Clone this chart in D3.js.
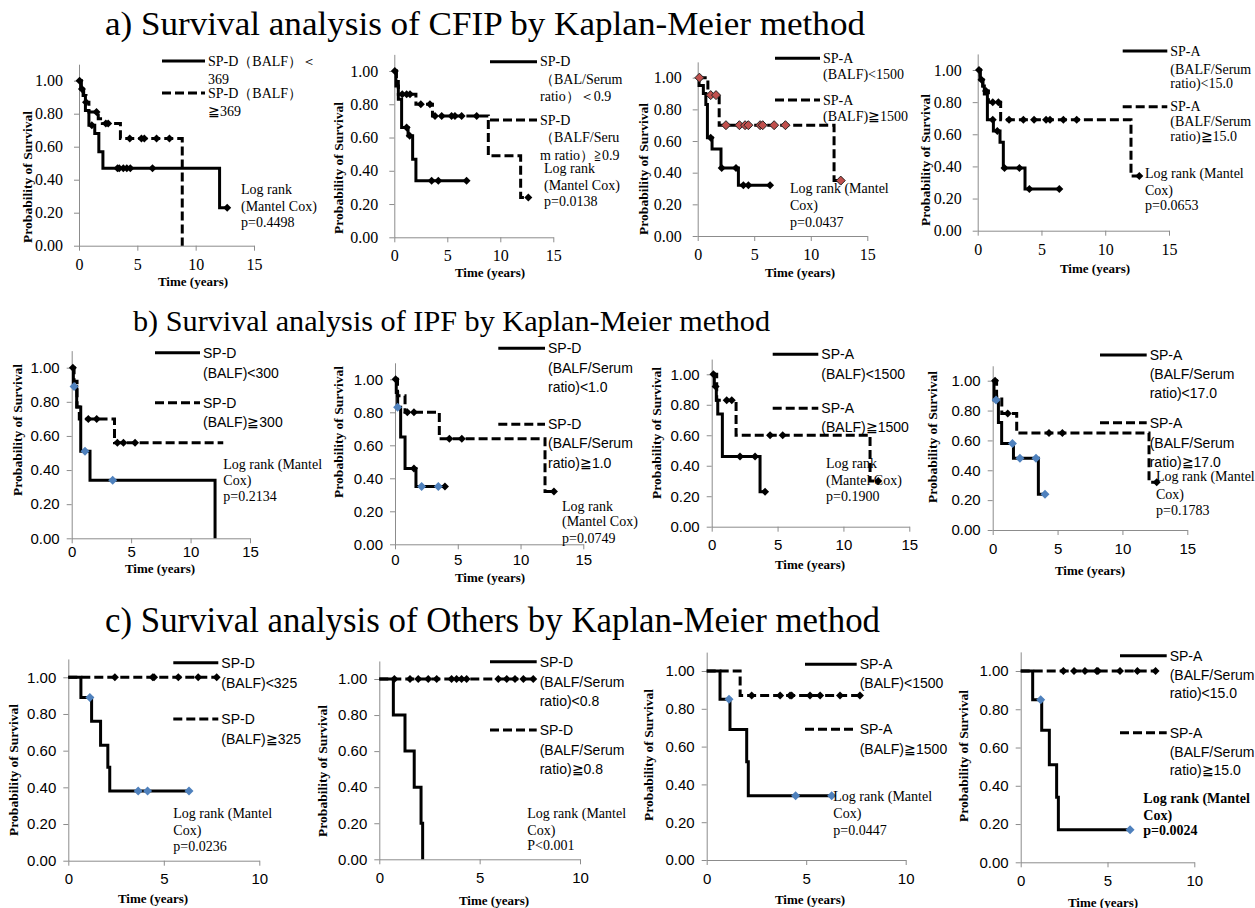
<!doctype html>
<html>
<head>
<meta charset="utf-8">
<title>Survival analysis</title>
<script src="https://d3js.org/d3.v7.min.js"></script>
<style>
  body { margin: 0; background: #fff; }
</style>
</head>
<body>
<script>

// ---- data: step points [time, survival], censor times, labels ----
var a1Solid = [[0,1],[0.15,0.95],[0.35,0.91],[0.55,0.82],[0.85,0.73],[1.35,0.68],[1.7,0.57],[2.05,0.47],[12.05,0.23]];
var a1SolidCens = [0.05, 1.1, 3.3, 3.45, 3.8, 4.1, 4.4, 6.3, 12.7];
var a1Dashed = [[0,1],[0.2,0.95],[0.4,0.91],[0.6,0.87],[0.85,0.81],[1.65,0.77],[2.0,0.74],[3.55,0.65],[8.85,0]];
var a1DashedCens = [0.25, 0.6, 1.5, 2.3, 2.5, 4.35, 5.35, 5.6, 6.65, 7.75];

var a2Solid = [[0,1],[0.15,0.91],[0.38,0.83],[0.69,0.66],[1.3,0.61],[1.73,0.47],[2.04,0.34]];
var a2SolidCens = [0.05, 1.16, 1.45, 3.52, 4.15, 6.82];
var a2Dashed = [[0,1],[0.2,0.95],[0.38,0.86],[2.04,0.80],[3.6,0.73],[8.87,0.49],[11.92,0.24]];
var a2DashedCens = [0.75, 1.16, 1.48, 2.5, 3.36, 3.84, 4.47, 5.4, 5.72, 6.35, 7.77, 12.64];

var a3Solid = [[0,1],[0.12,0.95],[0.5,0.9],[0.72,0.83],[0.86,0.62],[1.27,0.55],[2.06,0.43],[3.6,0.32]];
var a3SolidCens = [1.15, 2.12, 3.39, 4.04, 4.48, 6.4];
var a3Dashed = [[0,1],[0.9,0.89],[1.9,0.70],[12.06,0.35]];
var a3DashedRed = [0.15, 1.15, 1.62, 2.5, 3.69, 4.19, 4.48, 5.52, 5.75, 6.76, 7.76, 12.65];

var a4Solid = [[0,1],[0.18,0.94],[0.4,0.9],[0.52,0.85],[0.76,0.69],[1.23,0.62],[1.75,0.55],[2.01,0.39],[3.71,0.26]];
var a4SolidCens = [0.3, 1.18, 1.54, 2.1, 3.27, 4.05, 6.4];
var a4Dashed = [[0,1],[0.2,0.94],[0.4,0.9],[0.6,0.87],[0.84,0.80],[1.8,0.69],[12.02,0.34]];
var a4DashedCens = [0.1, 0.65, 1.18, 1.62, 2.46, 3.58, 4.42, 5.36, 5.67, 6.72, 7.76, 12.67];

var b1Solid = [[0,1],[0.14,0.89],[0.42,0.77],[0.76,0.51],[1.54,0.34],[12.06,0]];
var b1SolidBlue = [0.2, 1.12, 3.45];
var b1Dashed = [[0,1],[0.2,0.92],[0.45,0.77],[0.64,0.70],[3.6,0.56],[12.75,0.56]];
var b1DashedCens = [0.1, 1.4, 2.1, 3.84, 4.35, 5.33];

var b2Solid = [[0,1],[0.1,0.92],[0.21,0.83],[0.45,0.65],[0.8,0.46],[1.67,0.35]];
var b2SolidCens = [0.05, 1.51, 3.98];
var b2SolidBlue = [0.21, 2.12, 3.45];
var b2Dashed = [[0,1],[0.2,0.9],[0.8,0.8],[3.53,0.64],[11.95,0.32]];
var b2DashedCens = [0.98, 1.51, 4.33, 5.32, 12.66];

var b3Solid = [[0,1],[0.2,0.92],[0.35,0.83],[0.46,0.74],[0.81,0.46],[3.67,0.23]];
var b3SolidCens = [0.13, 0.3, 2.15, 3.29, 4.05];
var b3Dashed = [[0,1],[0.38,0.83],[1.85,0.60],[12.02,0.30]];
var b3DashedCens = [1.14, 1.52, 4.43, 5.39, 12.65];

var b4Solid = [[0,1],[0.1,0.87],[0.44,0.72],[0.69,0.58],[1.6,0.48],[3.52,0.24]];
var b4SolidBlue = [0.26, 1.52, 2.1, 3.34, 4.03];
var b4Dashed = [[0,1],[0.3,0.89],[0.7,0.78],[1.85,0.65],[12.05,0.32]];
var b4DashedCens = [0.18, 1.16, 4.34, 5.37, 12.64];

var c1Solid = [[0,1],[0.66,0.89],[1.22,0.76],[1.69,0.63],[2.07,0.51],[2.17,0.38]];
var c1SolidBlue = [1.13, 3.66, 4.15, 6.32];
var c1Dashed = [[0,1]];
var c1DashedCens = [2.44, 4.42, 4.49, 5.76, 6.8, 7.77];

var c2Solid = [[0,1],[0.7,0.8],[1.28,0.6],[1.74,0.4],[2.08,0.2],[2.16,0]];
var c2Dashed = [[0,1]];
var c2DashedCens = [0.75, 1.53, 1.94, 2.44, 2.86, 3.6, 3.85, 4.1, 4.35, 5.93, 6.35, 6.76, 7.18, 7.67];

var c3Solid = [[0,1],[0.67,0.85],[1.17,0.69],[2.01,0.52],[2.09,0.34]];
var c3SolidBlue = [1.12, 4.47, 6.28];
var c3Dashed = [[0,1],[1.68,0.87]];
var c3DashedCens = [2.26, 3.69, 4.19, 4.27, 5.19, 5.7, 6.7, 7.7];

var c4Solid = [[0,1],[0.69,0.85],[1.21,0.69],[1.65,0.51],[2.07,0.34],[2.17,0.17]];
var c4SolidBlue = [1.15, 6.3];
var c4Dashed = [[0,1]];
var c4DashedCens = [2.46, 3.07, 3.7, 4.38, 4.45, 5.72, 6.72, 7.77];

var yTicks = [0, 0.2, 0.4, 0.6, 0.8, 1.0];
var xTicks15 = [0, 5, 10, 15];
var xTicks10 = [0, 5, 10];

var titles = ["a) Survival analysis of CFIP by Kaplan-Meier method",
              "b) Survival analysis of IPF by Kaplan-Meier method",
              "c) Survival analysis of Others by Kaplan-Meier method"];

var a1Labels = [["SP-D（BALF）＜", "369"], ["SP-D（BALF）", "≧369"]];
var a2Labels = [["SP-D", "（BAL/Serum", "ratio）＜0.9"], ["SP-D", "（BALF/Seru", "m ratio）≧0.9"]];
var a3Labels = [["SP-A", "(BALF)<1500"], ["SP-A", "(BALF)≧1500"]];
var a4Labels = [["SP-A", "(BALF/Serum", "ratio)<15.0"], ["SP-A", "(BALF/Serum", "ratio)≧15.0"]];
var b1Labels = [["SP-D", "(BALF)<300"], ["SP-D", "(BALF)≧300"]];
var b2Labels = [["SP-D", "(BALF/Serum", "ratio)<1.0"], ["SP-D", "(BALF/Serum", "ratio)≧1.0"]];
var b3Labels = [["SP-A", "(BALF)<1500"], ["SP-A", "(BALF)≧1500"]];
var b4Labels = [["SP-A", "(BALF/Serum", "ratio)<17.0"], ["SP-A", "(BALF/Serum", "ratio)≧17.0"]];
var c1Labels = [["SP-D", "(BALF)<325"], ["SP-D", "(BALF)≧325"]];
var c2Labels = [["SP-D", "(BALF/Serum", "ratio)<0.8"], ["SP-D", "(BALF/Serum", "ratio)≧0.8"]];
var c3Labels = [["SP-A", "(BALF)<1500"], ["SP-A", "(BALF)≧1500"]];
var c4Labels = [["SP-A", "(BALF/Serum", "ratio)<15.0"], ["SP-A", "(BALF/Serum", "ratio)≧15.0"]];

var a1Stat = ["Log rank", "(Mantel Cox)", "p=0.4498"];
var a2Stat = ["Log rank", "(Mantel Cox)", "p=0.0138"];
var a3Stat = ["Log rank (Mantel", "Cox)", "p=0.0437"];
var a4Stat = ["Log rank (Mantel", "Cox)", "p=0.0653"];
var b1Stat = ["Log rank (Mantel", "Cox)", "p=0.2134"];
var b2Stat = ["Log rank", "(Mantel Cox)", "p=0.0749"];
var b3Stat = ["Log rank", "(Mantel Cox)", "p=0.1900"];
var b4Stat = ["Log rank (Mantel", "Cox)", "p=0.1783"];
var c1Stat = ["Log rank (Mantel", "Cox)", "p=0.0236"];
var c2Stat = ["Log rank (Mantel", "Cox)", "P<0.001"];
var c3Stat = ["Log rank (Mantel", "Cox)", "p=0.0447"];
var c4Stat = ["Log rank (Mantel", "Cox)", "p=0.0024"];

// ---- styles ----
var serif = "'Liberation Serif', 'Times New Roman', serif";
var sans = "'Liberation Sans', Arial, sans-serif";
var blue = "#4f81bd";
var red = "#c0504d";
var axisColor = "#8c8c8c";

// ---- layout of the 12 panels ----
var panels = [
  {s: a1Solid, d: a1Dashed, marks: [[a1SolidCens,'s','#000'],[a1DashedCens,'d','#000']], xMax: 15,
   x0: 79, x1: 254, y1: 80.7, y0: 245.7, ylab: [27, 177], tlab: [193, 281], tickFont: serif, ypad: 11, xpad: 8,
   lx: [162, 205], sy: [61, 79], dy: [93, 111], labels: a1Labels, legFont: serif,
   stat: a1Stat, sx: 241, sty: [189, 206, 222]},
  {s: a2Solid, d: a2Dashed, marks: [[a2SolidCens,'s','#000'],[a2DashedCens,'d','#000']], xMax: 15,
   x0: 394.3, x1: 553.3, y1: 71, y0: 237.3, ylab: [338, 168], tlab: [490, 272], tickFont: serif, ypad: 11, xpad: 7,
   lx: [490, 537], sy: [61.7, 79.3, 96.7], dy: [120, 137.5, 155], labels: a2Labels, legFont: serif,
   stat: a2Stat, sx: 544, sty: [168, 185, 201.7]},
  {s: a3Solid, d: a3Dashed, marks: [[a3SolidCens,'s','#000'],[a3DashedRed,'d',red]], xMax: 15,
   x0: 697.7, x1: 867.3, y1: 77.7, y0: 236, ylab: [643, 169], tlab: [800, 272], tickFont: serif, ypad: 11, xpad: 8,
   lx: [775, 820], sy: [58.3, 74.3], dy: [100, 116], labels: a3Labels, legFont: serif,
   stat: a3Stat, sx: 790, sty: [188, 205, 222.7]},
  {s: a4Solid, d: a4Dashed, marks: [[a4SolidCens,'s','#000'],[a4DashedCens,'d','#000']], xMax: 15,
   x0: 977.7, x1: 1169, y1: 70, y0: 230.7, ylab: [925, 160], tlab: [1095, 268], tickFont: serif, ypad: 11, xpad: 8,
   lx: [1122.7, 1167.3], sy: [51, 69, 83.3], dy: [106.7, 121.7, 136.7], labels: a4Labels, legFont: serif,
   stat: a4Stat, sx: 1145, sty: [173.3, 190, 205.7]},

  {s: b1Solid, d: b1Dashed, marks: [[b1DashedCens,'d','#000'],[b1SolidBlue,'s',blue]], xMax: 15,
   x0: 71.7, x1: 250, y1: 367.7, y0: 538.3, ylab: [17, 430], tlab: [160, 568], tickFont: sans, ypad: 7, xpad: 3,
   lx: [155, 200], sy: [352.7, 372.7], dy: [402.7, 421.7], labels: b1Labels, legFont: sans,
   stat: b1Stat, sx: 223.3, sty: [464.3, 480, 496.7]},
  {s: b2Solid, d: b2Dashed, marks: [[b2SolidCens,'s','#000'],[b2DashedCens,'d','#000'],[b2SolidBlue,'s',blue]], xMax: 15,
   x0: 395, x1: 583.3, y1: 379.3, y0: 544.3, ylab: [338, 432], tlab: [490, 577], tickFont: sans, ypad: 7, xpad: 5,
   lx: [498.3, 545], sy: [348.3, 368.3, 386.7], dy: [424.3, 443.3, 462.7], labels: b2Labels, legFont: sans,
   stat: b2Stat, sx: 562, sty: [506.7, 521.7, 538.3]},
  {s: b3Solid, d: b3Dashed, marks: [[b3SolidCens,'s','#000'],[b3DashedCens,'d','#000']], xMax: 15,
   x0: 711.7, x1: 909.3, y1: 374.3, y0: 526.7, ylab: [656, 433], tlab: [810, 564], tickFont: sans, ypad: 7, xpad: 8,
   lx: [772.7, 818.3], sy: [354.3, 374.3], dy: [408.3, 427.3], labels: b3Labels, legFont: sans,
   stat: b3Stat, sx: 826, sty: [463.3, 480, 496]},
  {s: b4Solid, d: b4Dashed, marks: [[b4DashedCens,'d','#000'],[b4SolidBlue,'s',blue]], xMax: 15,
   x0: 992.7, x1: 1187.3, y1: 380.7, y0: 530, ylab: [932, 437], tlab: [1090, 570], tickFont: sans, ypad: 7, xpad: 8,
   lx: [1100, 1146.7], sy: [355, 374.3, 393.3], dy: [422.7, 442.7, 461.7], labels: b4Labels, legFont: sans,
   stat: b4Stat, sx: 1156, sty: [476.7, 494, 510]},

  {s: c1Solid, d: c1Dashed, marks: [[c1DashedCens,'d','#000'],[c1SolidBlue,'s',blue]], xMax: 10,
   x0: 68.3, x1: 259.3, y1: 677.3, y0: 860.7, ylab: [13.5, 770], tlab: [153, 898], tickFont: sans, ypad: 7, xpad: 8,
   lx: [173.3, 218.3], sy: [662.7, 682.7], dy: [719, 739], labels: c1Labels, legFont: sans,
   stat: c1Stat, sx: 173.3, sty: [813.3, 830, 846.7]},
  {s: c2Solid, d: c2Dashed, marks: [[c2DashedCens,'d','#000']], xMax: 10,
   x0: 379.3, x1: 580, y1: 679, y0: 859.3, ylab: [322, 771], tlab: [494, 900], tickFont: sans, ypad: 7, xpad: 8,
   lx: [490, 536.7], sy: [661.7, 682.3, 701], dy: [730, 750, 769], labels: c2Labels, legFont: sans,
   stat: c2Stat, sx: 527.3, sty: [813.3, 830, 845]},
  {s: c3Solid, d: c3Dashed, marks: [[c3DashedCens,'d','#000'],[c3SolidBlue,'s',blue]], xMax: 10,
   x0: 706.7, x1: 905.7, y1: 671, y0: 860, ylab: [648, 755], tlab: [810, 899], tickFont: sans, ypad: 7, xpad: 8,
   lx: [805, 856.7], sy: [664.3, 683.3], dy: [729.3, 749.3], labels: c3Labels, legFont: sans,
   stat: c3Stat, sx: 833.3, sty: [796.7, 813.3, 830]},
  {s: c4Solid, d: c4Dashed, marks: [[c4DashedCens,'d','#000'],[c4SolidBlue,'s',blue]], xMax: 10,
   x0: 1020.7, x1: 1194.3, y1: 671, y0: 862.3, ylab: [963, 756], tlab: [1103, 902], tickFont: sans, ypad: 7, xpad: 8,
   lx: [1120, 1166.7], sy: [655.7, 675, 693.3], dy: [732.7, 751.7, 770], labels: c4Labels, legFont: sans,
   stat: c4Stat, sx: 1143.3, sty: [798.3, 815, 830], statBold: true}
];

// title position, font size, target width
var titleLayout = [[105, 35, 34, 760], [133, 331, 30, 637], [105, 632, 35, 775]];

// ---- drawing ----
var svg = d3.select('body').append('svg')
  .attr('width', 1255)
  .attr('height', 908);

titles.forEach(function(t, i) {
  var tl = titleLayout[i];
  svg.append('text')
    .attr('x', tl[0])
    .attr('y', tl[1])
    .attr('font-family', serif)
    .attr('font-size', tl[2])
    .attr('textLength', tl[3])
    .attr('lengthAdjust', 'spacingAndGlyphs')
    .attr('fill', '#000')
    .text(t);
});

// survival value of a step curve at time t
function survAt(steps, t) {
  var v = steps[0][1];
  steps.forEach(function(p) { if (p[0] <= t) v = p[1]; });
  return v;
}

function diamond(r) {
  return 'M0,' + (-r) + 'L' + r + ',0L0,' + r + 'L' + (-r) + ',0Z';
}

panels.forEach(function(p) {
  var g = svg.append('g');

  var x = d3.scaleLinear().domain([0, p.xMax]).range([p.x0, p.x1]);
  var y = d3.scaleLinear().domain([0, 1.1]).range([p.y0, p.y0 - (p.y0 - p.y1) * 1.1]);

  // axes
  var xAxis = g.append('g')
    .attr('transform', 'translate(0,' + p.y0 + ')')
    .call(d3.axisBottom(x).tickValues(p.xMax == 15 ? xTicks15 : xTicks10)
      .tickSizeInner(5).tickSizeOuter(0).tickPadding(p.xpad));
  var yAxis = g.append('g')
    .attr('transform', 'translate(' + p.x0 + ',0)')
    .call(d3.axisLeft(y).tickValues(yTicks).tickFormat(d3.format('.2f'))
      .tickSizeInner(5).tickSizeOuter(0).tickPadding(p.ypad));
  [xAxis, yAxis].forEach(function(a) {
    a.attr('font-family', p.tickFont)
     .attr('font-size', p.tickFont == serif ? 16 : 15);
    a.selectAll('path, line').attr('stroke', axisColor);
    a.selectAll('text').attr('fill', '#000');
  });

  // axis titles
  g.append('text')
    .attr('transform', 'translate(' + p.ylab[0] + ',' + p.ylab[1] + ') rotate(-90)')
    .attr('text-anchor', 'middle')
    .attr('dominant-baseline', 'central')
    .attr('font-family', serif)
    .attr('font-weight', 'bold')
    .attr('font-size', 13.5)
    .text('Probability of Survival');
  g.append('text')
    .attr('x', p.tlab[0])
    .attr('y', p.tlab[1])
    .attr('text-anchor', 'middle')
    .attr('dominant-baseline', 'central')
    .attr('font-family', serif)
    .attr('font-weight', 'bold')
    .attr('font-size', 13)
    .text('Time (years)');

  // curves
  var line = d3.line()
    .x(function(d) { return x(d[0]); })
    .y(function(d) { return y(d[1]); })
    .curve(d3.curveStepAfter);

  function curvePoints(steps, key) {
    var pts = steps.slice();
    var end = pts[pts.length - 1][0];
    p.marks.forEach(function(m) {
      if (m[1] == key) m[0].forEach(function(t) { if (t > end) end = t; });
    });
    if (end > pts[pts.length - 1][0]) pts.push([end, pts[pts.length - 1][1]]);
    return pts;
  }

  g.append('path')
    .attr('d', line(curvePoints(p.d, 'd')))
    .attr('fill', 'none')
    .attr('stroke', '#000')
    .attr('stroke-width', 3)
    .attr('stroke-dasharray', '9,4');
  g.append('path')
    .attr('d', line(curvePoints(p.s, 's')))
    .attr('fill', 'none')
    .attr('stroke', '#000')
    .attr('stroke-width', 3);

  // censor marks
  p.marks.forEach(function(m) {
    var steps = m[1] == 's' ? p.s : p.d;
    g.selectAll(null)
      .data(m[0])
      .enter()
      .append('path')
      .attr('d', diamond(m[2] == '#000' ? 4 : 4.5))
      .attr('transform', function(t) { return 'translate(' + x(t) + ',' + y(survAt(steps, t)) + ')'; })
      .attr('fill', m[2])
      .attr('stroke', m[2] == red ? '#222' : 'none')
      .attr('stroke-width', 1);
  });

  // legend
  [[p.sy, null, p.labels[0]], [p.dy, '9,4', p.labels[1]]].forEach(function(item) {
    g.append('line')
      .attr('x1', p.lx[0]).attr('x2', p.lx[1])
      .attr('y1', item[0][0]).attr('y2', item[0][0])
      .attr('stroke', '#000')
      .attr('stroke-width', 3)
      .attr('stroke-dasharray', item[1]);
    item[2].forEach(function(txt, i) {
      g.append('text')
        .attr('x', p.lx[1] + 3)
        .attr('y', item[0][i])
        .attr('dominant-baseline', 'central')
        .attr('font-family', p.legFont)
        .attr('font-size', 14)
        .text(txt);
    });
  });

  // log rank note
  p.stat.forEach(function(txt, i) {
    g.append('text')
      .attr('x', p.sx)
      .attr('y', p.sty[i])
      .attr('dominant-baseline', 'central')
      .attr('font-family', serif)
      .attr('font-size', 14)
      .attr('font-weight', p.statBold ? 'bold' : 'normal')
      .text(txt);
  });
});

</script>
</body>
</html>
